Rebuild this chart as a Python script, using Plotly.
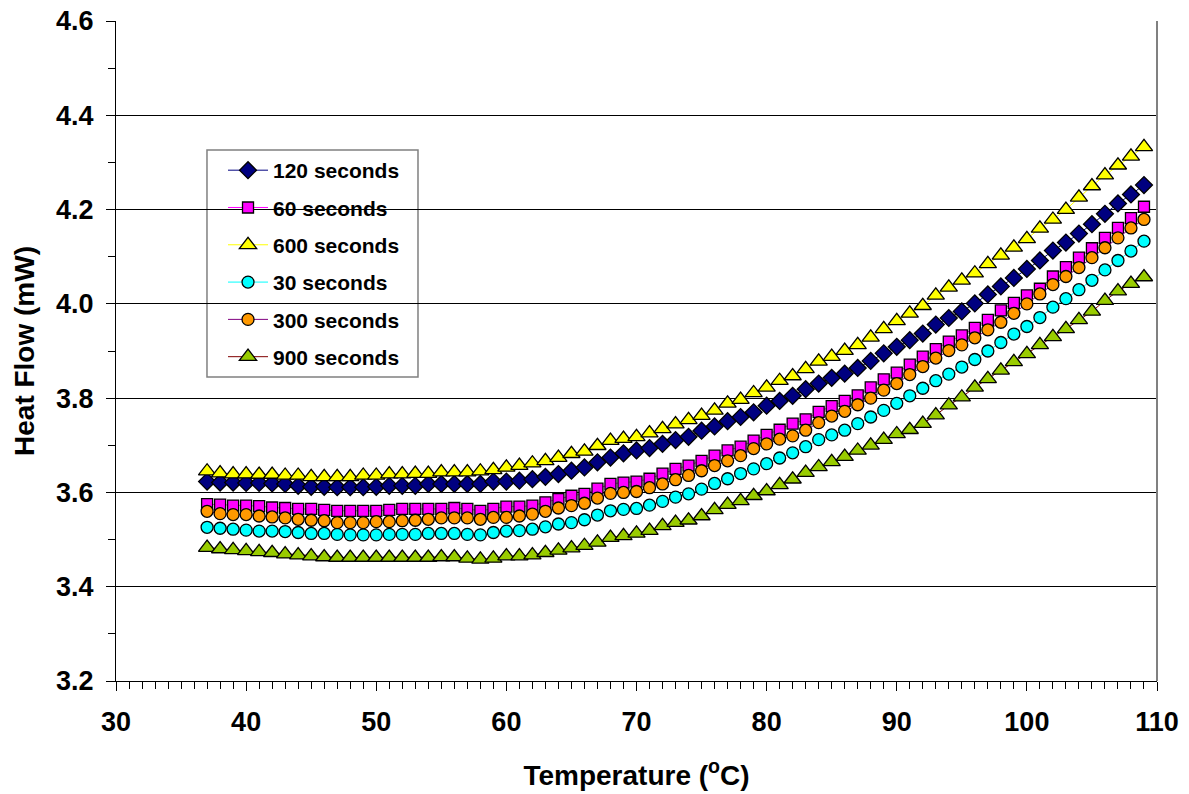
import plotly.graph_objects as go

# Temperature (deg C) at which each heat-flow reading was taken
temperature = list(range(37, 110))

# Heat flow (mW) for each modulation period
hf_120 = [3.623, 3.621, 3.621, 3.620, 3.620, 3.619, 3.618, 3.614, 3.612, 3.612, 3.611, 3.611, 3.611, 3.612,
          3.614, 3.614, 3.614, 3.618, 3.618, 3.618, 3.618, 3.618, 3.623, 3.623, 3.625, 3.628, 3.633, 3.639, 3.646,
          3.653, 3.664, 3.674, 3.683, 3.689, 3.694, 3.703, 3.711, 3.718, 3.731, 3.740, 3.751, 3.760, 3.770,
          3.784, 3.794, 3.805, 3.819, 3.831, 3.843, 3.852, 3.864, 3.879, 3.895, 3.909, 3.923, 3.937, 3.956, 3.970,
          3.984, 4.001, 4.020, 4.037, 4.055, 4.074, 4.092, 4.113, 4.130, 4.149, 4.169, 4.191, 4.213, 4.232, 4.252]

hf_60 = [3.575, 3.574, 3.572, 3.572, 3.571, 3.568, 3.567, 3.565, 3.565, 3.563, 3.561, 3.561, 3.561, 3.561,
         3.563, 3.565, 3.565, 3.565, 3.565, 3.567, 3.565, 3.561, 3.565, 3.570, 3.570, 3.572, 3.579, 3.586, 3.593,
         3.597, 3.608, 3.618, 3.621, 3.623, 3.629, 3.640, 3.650, 3.657, 3.667, 3.678, 3.689, 3.697, 3.710,
         3.722, 3.733, 3.746, 3.755, 3.771, 3.783, 3.794, 3.806, 3.823, 3.840, 3.854, 3.871, 3.888, 3.904, 3.920,
         3.933, 3.949, 3.966, 3.986, 4.002, 4.018, 4.032, 4.058, 4.078, 4.098, 4.118, 4.140, 4.161, 4.182, 4.206]

hf_600 = [3.645, 3.641, 3.639, 3.639, 3.638, 3.638, 3.636, 3.636, 3.633, 3.633, 3.633, 3.633, 3.636, 3.636,
          3.639, 3.639, 3.640, 3.640, 3.643, 3.643, 3.643, 3.645, 3.648, 3.653, 3.657, 3.662, 3.667, 3.674, 3.682,
          3.687, 3.699, 3.710, 3.714, 3.718, 3.726, 3.735, 3.745, 3.754, 3.763, 3.774, 3.789, 3.797, 3.811,
          3.823, 3.837, 3.847, 3.862, 3.878, 3.888, 3.901, 3.913, 3.929, 3.947, 3.964, 3.980, 3.996, 4.018, 4.035,
          4.050, 4.065, 4.085, 4.103, 4.120, 4.138, 4.160, 4.179, 4.200, 4.226, 4.250, 4.273, 4.294, 4.313, 4.333]

hf_30 = [3.526, 3.524, 3.522, 3.520, 3.518, 3.518, 3.517, 3.515, 3.513, 3.513, 3.511, 3.510, 3.510, 3.510,
         3.511, 3.511, 3.511, 3.513, 3.513, 3.513, 3.511, 3.510, 3.515, 3.518, 3.519, 3.522, 3.527, 3.533, 3.536,
         3.542, 3.552, 3.561, 3.564, 3.566, 3.573, 3.581, 3.590, 3.597, 3.607, 3.619, 3.629, 3.640, 3.650,
         3.661, 3.673, 3.684, 3.697, 3.712, 3.722, 3.732, 3.746, 3.760, 3.774, 3.789, 3.805, 3.821, 3.837, 3.851,
         3.866, 3.882, 3.900, 3.918, 3.936, 3.952, 3.971, 3.993, 4.011, 4.030, 4.050, 4.072, 4.092, 4.112, 4.133]

hf_300 = [3.560, 3.555, 3.553, 3.553, 3.550, 3.548, 3.546, 3.543, 3.541, 3.540, 3.536, 3.536, 3.536, 3.538,
          3.538, 3.540, 3.541, 3.543, 3.546, 3.546, 3.546, 3.543, 3.547, 3.547, 3.550, 3.554, 3.560, 3.567, 3.572,
          3.577, 3.588, 3.598, 3.600, 3.602, 3.610, 3.618, 3.627, 3.636, 3.646, 3.657, 3.667, 3.678, 3.693,
          3.703, 3.713, 3.720, 3.732, 3.748, 3.762, 3.772, 3.786, 3.800, 3.817, 3.831, 3.850, 3.867, 3.885, 3.901,
          3.913, 3.928, 3.945, 3.961, 3.980, 4.000, 4.021, 4.041, 4.058, 4.077, 4.098, 4.119, 4.140, 4.161, 4.179]

hf_900 = [3.483, 3.480, 3.478, 3.476, 3.474, 3.472, 3.469, 3.467, 3.465, 3.463, 3.462, 3.462, 3.462, 3.462,
          3.462, 3.462, 3.462, 3.462, 3.463, 3.463, 3.460, 3.458, 3.460, 3.465, 3.465, 3.467, 3.472, 3.477, 3.482,
          3.487, 3.494, 3.504, 3.508, 3.513, 3.519, 3.529, 3.536, 3.541, 3.550, 3.563, 3.574, 3.582, 3.593,
          3.603, 3.616, 3.628, 3.642, 3.654, 3.665, 3.676, 3.689, 3.700, 3.712, 3.724, 3.733, 3.746, 3.764, 3.785,
          3.802, 3.823, 3.841, 3.859, 3.877, 3.894, 3.913, 3.930, 3.947, 3.966, 3.984, 4.007, 4.027, 4.043, 4.057]

series_names = ["120 seconds", "60 seconds", "600 seconds", "30 seconds", "300 seconds", "900 seconds"]
series_values = [hf_120, hf_60, hf_600, hf_30, hf_300, hf_900]

# (symbol, fill colour, line colour, marker size)
styles = [
    ("diamond", "#000080", "#000080", 13),
    ("square", "#FF00FF", "#FF00FF", 11),
    ("triangle-up", "#FFFF00", "#FFFF00", 15),
    ("circle", "#00FFFF", "#00FFFF", 12),
    ("circle", "#FF9900", "#800080", 12),
    ("triangle-up", "#99CC00", "#800000", 15),
]

FONT = "Liberation Sans, Arial, sans-serif"

fig = go.Figure()
for name, vals, (sym, fill, line, size) in zip(series_names, series_values, styles):
    fig.add_trace(go.Scatter(
        x=temperature, y=vals, name=name, mode="lines+markers",
        legendgroup=name,
        line=dict(color=line, width=1),
        marker=dict(symbol=sym, size=size, color=fill,
                    line=dict(color="black", width=1.3)),
    ))

fig.update_layout(
    width=1189, height=794,
    margin=dict(l=116, r=32, t=21, b=113, autoexpand=False),
    paper_bgcolor="white", plot_bgcolor="white",
    font=dict(family=FONT, color="black"),
    showlegend=True,
    legend=dict(
        x=0.1028, y=0.8045, xanchor="left", yanchor="top",
        bgcolor="rgba(0,0,0,0)", borderwidth=0,
        font=dict(family=FONT, size=21, color="black", weight="bold"),
        tracegroupgap=7, itemwidth=40,
    ),
    xaxis=dict(
        automargin=False,
        range=[30, 110], tick0=30, dtick=10,
        ticks="outside", ticklen=9, tickwidth=1, tickcolor="black",
        showline=True, linecolor="black", linewidth=1,
        showgrid=False, zeroline=False,
        minor=dict(dtick=1, ticks="outside", ticklen=7, tickwidth=1,
                   tickcolor="black", showgrid=False),
        tickfont=dict(family=FONT, size=27, weight="bold"),
        ticklabelstandoff=8,
        title=dict(text="Temperature (<sup>o</sup>C)",
                   font=dict(family=FONT, size=28, weight="bold"), standoff=28),
    ),
    xaxis2=dict(
        automargin=False,
        overlaying="x", anchor="y", side="bottom", matches="x",
        range=[30, 110], tick0=30, dtick=10,
        ticks="inside", ticklen=9, tickwidth=1, tickcolor="black",
        showticklabels=False, showline=False, showgrid=False, zeroline=False,
    ),
    yaxis=dict(
        automargin=False,
        range=[3.2, 4.6], tick0=3.2, dtick=0.2, tickformat=".1f",
        ticks="outside", ticklen=9, tickwidth=1, tickcolor="black",
        showline=True, linecolor="black", linewidth=1,
        showgrid=True, gridcolor="black", gridwidth=1, zeroline=False,
        minor=dict(dtick=0.1, ticks="outside", ticklen=7, tickwidth=1,
                   tickcolor="black", showgrid=False),
        tickfont=dict(family=FONT, size=27, weight="bold"),
        ticklabelstandoff=7,
        title=dict(text="Heat Flow (mW)",
                   font=dict(family=FONT, size=28, weight="bold"), standoff=13),
    ),
    shapes=[
        # plot-area frame on the right
        dict(type="line", xref="paper", yref="paper", x0=1, x1=1, y0=0, y1=1,
             line=dict(color="#808080", width=2)),
        # legend frame
        dict(type="rect", xref="paper", yref="paper", layer="below",
             x0=0.0874, x1=0.2901, y0=0.4606, y1=0.8045,
             fillcolor="white", line=dict(color="#808080", width=1.5)),
    ],
)

fig.write_html("out.html")
